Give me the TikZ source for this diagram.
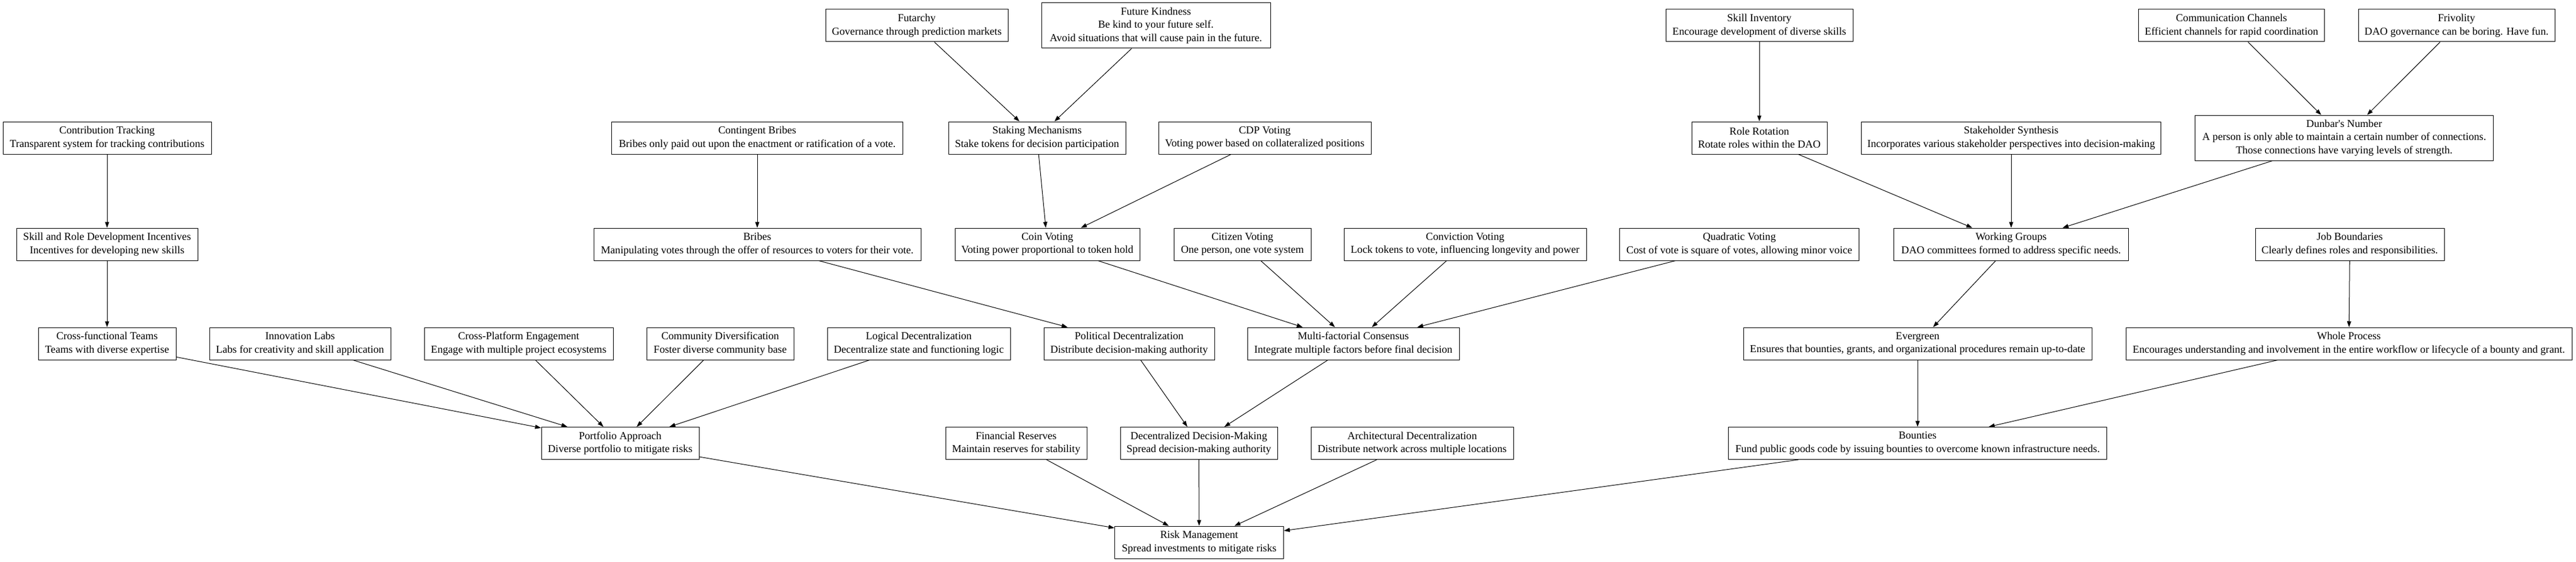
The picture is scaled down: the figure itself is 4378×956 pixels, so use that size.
\documentclass[tikz,border=0pt]{standalone}
\usepackage{fontspec}
\setmainfont{Liberation Serif}
\usetikzlibrary{arrows.meta}

\begin{document}
\begin{tikzpicture}[
  x=0.75pt, y=-0.75pt, line width=0.75pt,
  box/.style={draw, align=center, inner sep=2pt, minimum height=41.25pt,
    font=\fontsize{13.6}{16.8}\selectfont},
  w/.style={minimum width=#1*0.75pt},
  tall/.style={minimum height=57.75pt},
  >={Triangle[length=7.5pt, width=5.25pt]}
]
\path[use as bounding box, fill=white] (0,0) rectangle (4378,956);

% Nodes
\node[box, w=310] (futarchy) at (1558,43.5) {Futarchy\\Governance through prediction markets};
\node[box, w=389, tall] (kind) at (1964.5,43.5) {Future Kindness\\Be kind to your future self.\\Avoid situations that will cause pain in the future.};
\node[box, w=318] (skillinv) at (2990,43.5) {Skill Inventory\\Encourage development of diverse skills};
\node[box, w=316] (comm) at (3792.5,43.5) {Communication Channels\\Efficient channels for rapid coordination};
\node[box, w=334] (frivol) at (4175,43.5) {Frivolity\\DAO governance can be boring. Have fun.};

\node[box, w=354] (track) at (182,234.5) {Contribution Tracking\\Transparent system for tracking contributions};
\node[box, w=495] (cbribes) at (1287,234.5) {Contingent Bribes\\Bribes only paid out upon the enactment or ratification of a vote.};
\node[box, w=301] (staking) at (1762.5,234.5) {Staking Mechanisms\\Stake tokens for decision participation};
\node[box, w=361] (cdp) at (2149.5,234.5) {CDP Voting\\Voting power based on collateralized positions};
\node[box, w=230] (rotate) at (2990,234.5) {Role Rotation\\Rotate roles within the DAO};
\node[box, w=509] (synth) at (3418,234.5) {Stakeholder Synthesis\\Incorporates various stakeholder perspectives into decision-making};
\node[box, w=507, tall] (dunbar) at (3984,234.5) {Dunbar\textquotesingle s Number\\A person is only able to maintain a certain number of connections.\\Those connections have varying levels of strength.};

\node[box, w=308] (incent) at (182,415.5) {Skill and Role Development Incentives\\Incentives for developing new skills};
\node[box, w=556] (bribes) at (1287,415.5) {Bribes\\Manipulating votes through the offer of resources to voters for their vote.};
\node[box, w=314] (coin) at (1780,415.5) {Coin Voting\\Voting power proportional to token hold};
\node[box, w=233] (citizen) at (2111.5,415.5) {Citizen Voting\\One person, one vote system};
\node[box, w=412] (convict) at (2490,415.5) {Conviction Voting\\Lock tokens to vote, influencing longevity and power};
\node[box, w=407] (quad) at (2956,415.5) {Quadratic Voting\\Cost of vote is square of votes, allowing minor voice};
\node[box, w=399] (wgroups) at (3418,415.5) {Working Groups\\DAO committees formed to address specific needs.};
\node[box, w=321] (jobs) at (3993.5,415.5) {Job Boundaries\\Clearly defines roles and responsibilities.};

\node[box, w=234] (xteams) at (182,584.5) {Cross-functional Teams\\Teams with diverse expertise};
\node[box, w=308] (labs) at (510,584.5) {Innovation Labs\\Labs for creativity and skill application};
\node[box, w=321] (xplat) at (881.5,584.5) {Cross-Platform Engagement\\Engage with multiple project ecosystems};
\node[box, w=250] (diverse) at (1224,584.5) {Community Diversification\\Foster diverse community base};
\node[box, w=311] (logical) at (1561.5,584.5) {Logical Decentralization\\Decentralize state and functioning logic};
\node[box, w=290] (political) at (1919,584.5) {Political Decentralization\\Distribute decision-making authority};
\node[box, w=360] (consensus) at (2300,584.5) {Multi-factorial Consensus\\Integrate multiple factors before final decision};
\node[box, w=592] (evergreen) at (3259,584.5) {Evergreen\\Ensures that bounties, grants, and organizational procedures remain up-to-date};
\node[box, w=758] (whole) at (3992,584.5) {Whole Process\\Encourages understanding and involvement in the entire workflow or lifecycle of a bounty and grant.};

\node[box, w=268] (portfolio) at (1054,754) {Portfolio Approach\\Diverse portfolio to mitigate risks};
\node[box, w=240] (reserves) at (1727,754) {Financial Reserves\\Maintain reserves for stability};
\node[box, w=267] (ddm) at (2037.5,754) {Decentralized Decision-Making\\Spread decision-making authority};
\node[box, w=344] (archi) at (2400,754) {Architectural Decentralization\\Distribute network across multiple locations};
\node[box, w=643] (bounties) at (3259,754) {Bounties\\Fund public goods code by issuing bounties to overcome known infrastructure needs.};

\node[box, w=287] (risk) at (2038,922.5) {Risk Management\\Spread investments to mitigate risks};

% Arrows
\draw[->] (track) -- (incent);
\draw[->] (incent) -- (xteams);
\foreach \src in {xteams, labs, xplat, diverse, logical}
  \draw[->] (\src) -- (portfolio);
\draw[->] (futarchy) -- (staking);
\draw[->] (kind) -- (staking);
\draw[->] (cbribes) -- (bribes);
\draw[->] (staking) -- (coin);
\draw[->] (cdp) -- (coin);
\draw[->] (bribes) -- (political);
\foreach \src in {coin, citizen, convict, quad}
  \draw[->] (\src) -- (consensus);
\draw[->] (political) -- (ddm);
\draw[->] (consensus) -- (ddm);
\draw[->] (skillinv) -- (rotate);
\draw[->] (comm) -- (dunbar);
\draw[->] (frivol) -- (dunbar);
\foreach \src in {rotate, synth, dunbar}
  \draw[->] (\src) -- (wgroups);
\draw[->] (wgroups) -- (evergreen);
\draw[->] (jobs) -- (whole);
\draw[->] (evergreen) -- (bounties);
\draw[->] (whole) -- (bounties);
\foreach \src in {portfolio, reserves, ddm, archi, bounties}
  \draw[->] (\src) -- (risk); % all into risk management
\end{tikzpicture}
\end{document}
